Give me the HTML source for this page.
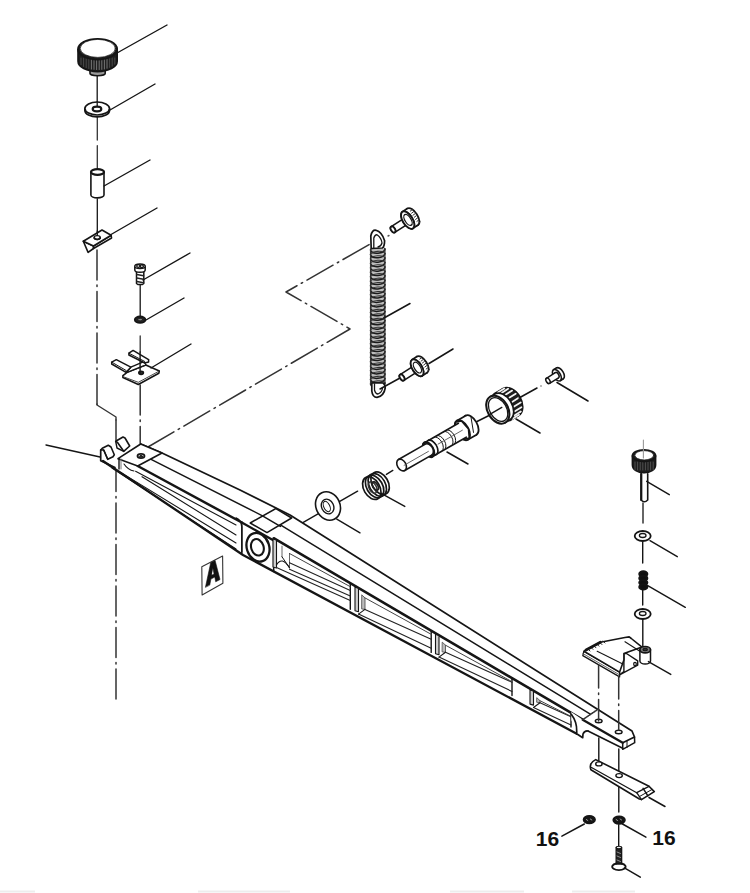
<!DOCTYPE html>
<html><head><meta charset="utf-8"><style>
html,body{margin:0;padding:0;background:#fff;}
svg{display:block;}
</style></head><body>
<svg width="750" height="893" viewBox="0 0 750 893" stroke-linecap="round">
<rect width="750" height="893" fill="#fff"/>
<line x1="97.3" y1="117.5" x2="97.3" y2="140" stroke="#333" stroke-width="1.3" />
<line x1="97.3" y1="145.7" x2="97.3" y2="168" stroke="#333" stroke-width="1.3" />
<polyline points="97,250 97,405" fill="none" stroke="#333" stroke-width="1.5" stroke-linejoin="round" stroke-dasharray="30 5 1.5 5" stroke-dashoffset="0"/>
<polyline points="97,404 97,405 116,417 116,420" fill="none" stroke="#333" stroke-width="1.4" stroke-linejoin="round" />
<polyline points="116,420 116,704" fill="none" stroke="#333" stroke-width="1.5" stroke-linejoin="round" stroke-dasharray="30 5 1.5 5" stroke-dashoffset="0"/>
<polyline points="140.2,385 140.2,452" fill="none" stroke="#333" stroke-width="1.5" stroke-linejoin="round" stroke-dasharray="30 5 1.5 5" stroke-dashoffset="0"/>
<line x1="140.2" y1="336" x2="140.2" y2="352" stroke="#333" stroke-width="1.3" />
<polyline points="148,447 350,329 286,292 372,243" fill="none" stroke="#333" stroke-width="1.5" stroke-linejoin="round" stroke-dasharray="30 5 1.5 5" stroke-dashoffset="0"/>
<line x1="97.2" y1="72" x2="97.2" y2="102" stroke="#151515" stroke-width="1.3" />
<path d="M90,69 L90,73.5 A7.6,2.2 0 0 0 105.2,73.5 L105.2,69" fill="#9a9a9a" stroke="#151515" stroke-width="1.6" stroke-linejoin="round" />
<path d="M78,49.2 L78,61.2 A19.6,10.4 0 0 0 117.2,61.2 L117.2,49.2 Z" fill="#1e1e1e" stroke="#151515" stroke-width="1.6" stroke-linejoin="round" />
<line x1="81" y1="58" x2="81" y2="64.7" stroke="#555" stroke-width="0.8" />
<line x1="83.6" y1="58" x2="83.6" y2="66.5" stroke="#555" stroke-width="0.8" />
<line x1="86.2" y1="58" x2="86.2" y2="67.7" stroke="#555" stroke-width="0.8" />
<line x1="88.8" y1="58" x2="88.8" y2="68.5" stroke="#555" stroke-width="0.8" />
<line x1="91.4" y1="58" x2="91.4" y2="69.1" stroke="#8a8a8a" stroke-width="0.8" />
<line x1="94" y1="58" x2="94" y2="69.4" stroke="#8a8a8a" stroke-width="0.8" />
<line x1="96.6" y1="58" x2="96.6" y2="69.6" stroke="#8a8a8a" stroke-width="0.8" />
<line x1="99.2" y1="58" x2="99.2" y2="69.6" stroke="#8a8a8a" stroke-width="0.8" />
<line x1="101.8" y1="58" x2="101.8" y2="69.4" stroke="#8a8a8a" stroke-width="0.8" />
<line x1="104.4" y1="58" x2="104.4" y2="69" stroke="#8a8a8a" stroke-width="0.8" />
<line x1="107" y1="58" x2="107" y2="68.3" stroke="#8a8a8a" stroke-width="0.8" />
<line x1="109.6" y1="58" x2="109.6" y2="67.4" stroke="#555" stroke-width="0.8" />
<line x1="112.2" y1="58" x2="112.2" y2="66.1" stroke="#555" stroke-width="0.8" />
<line x1="114.8" y1="58" x2="114.8" y2="64.2" stroke="#555" stroke-width="0.8" />
<ellipse cx="97.6" cy="49.2" rx="19.6" ry="10.4" fill="#1e1e1e" stroke="#151515" stroke-width="1.7" />
<ellipse cx="97.8" cy="48.4" rx="17.6" ry="9" fill="#fff" stroke="#151515" stroke-width="0.7" />
<line x1="117" y1="53" x2="167" y2="25" stroke="#151515" stroke-width="1.4" />
<path d="M84.9,108.5 L84.9,110.5 A12.3,6.4 0 0 0 109.5,110.5 L109.5,108.5" fill="#fff" stroke="#151515" stroke-width="1.7" stroke-linejoin="round" />
<ellipse cx="97.2" cy="108.5" rx="12.3" ry="6.5" fill="#fff" stroke="#151515" stroke-width="1.7" />
<line x1="97.2" y1="102" x2="97.2" y2="107" stroke="#151515" stroke-width="1.3" />
<ellipse cx="97" cy="109" rx="4.3" ry="2.3" fill="#fff" stroke="#151515" stroke-width="2.2" />
<line x1="110" y1="110" x2="155" y2="84" stroke="#151515" stroke-width="1.4" />
<path d="M90.9,172 L90.9,195 A6.55,2.9 0 0 0 104,195 L104,172" fill="#fff" stroke="#151515" stroke-width="1.6" stroke-linejoin="round" />
<ellipse cx="97.5" cy="172" rx="6.5" ry="2.9" fill="#fff" stroke="#151515" stroke-width="2.2" />
<line x1="97.3" y1="199" x2="97.3" y2="233" stroke="#151515" stroke-width="1.3" />
<line x1="104" y1="186" x2="150" y2="160" stroke="#151515" stroke-width="1.4" />
<polygon points="83.3,241.2 93.5,246 93.5,248.5 88.1,252.4" fill="#fff" stroke="#151515" stroke-width="1.6" stroke-linejoin="round" />
<polygon points="93.5,246 111.1,235.3 111.6,238 93.5,248.5" fill="#fff" stroke="#151515" stroke-width="1.5" stroke-linejoin="round" />
<polygon points="83.3,241.2 102,230 111.1,235.3 93.5,246" fill="#fff" stroke="#151515" stroke-width="1.6" stroke-linejoin="round" />
<line x1="97.3" y1="231" x2="97.3" y2="236" stroke="#151515" stroke-width="1.3" />
<ellipse cx="97.2" cy="237.6" rx="3.1" ry="2" fill="#fff" stroke="#151515" stroke-width="1.4" />
<path d="M94.3,238 A3.1,2 0 0 0 100.1,238" fill="none" stroke="#151515" stroke-width="1.8" stroke-linejoin="round" />
<line x1="111" y1="234.5" x2="157" y2="208" stroke="#151515" stroke-width="1.4" />
<polygon points="136.5,271.5 143.8,271.5 143.8,283.5 142.5,284.5 137.8,284.5 136.5,283.5" fill="#fff" stroke="#151515" stroke-width="1.5" stroke-linejoin="round" />
<line x1="136.8" y1="274.5" x2="143.5" y2="275.7" stroke="#222" stroke-width="1.5" />
<line x1="136.8" y1="278" x2="143.5" y2="279.2" stroke="#222" stroke-width="1.5" />
<line x1="136.8" y1="281.5" x2="143.5" y2="282.7" stroke="#222" stroke-width="1.5" />
<path d="M134.8,266.5 L134.8,270 A5.2,2.3 0 0 0 145.2,270 L145.2,266.5" fill="#fff" stroke="#151515" stroke-width="1.5" stroke-linejoin="round" />
<ellipse cx="140" cy="266.3" rx="5.2" ry="2.3" fill="#fff" stroke="#151515" stroke-width="1.5" />
<ellipse cx="138.3" cy="266" rx="1.6" ry="1.3" fill="none" stroke="#151515" stroke-width="1.3" />
<ellipse cx="141.8" cy="266.2" rx="1.6" ry="1.3" fill="none" stroke="#151515" stroke-width="1.3" />
<line x1="143" y1="280" x2="190" y2="253" stroke="#151515" stroke-width="1.4" />
<line x1="140.2" y1="285" x2="140.2" y2="316" stroke="#151515" stroke-width="1.3" />
<ellipse cx="140.1" cy="319.7" rx="5.3" ry="3.2" fill="#222" stroke="#151515" stroke-width="1.8" />
<ellipse cx="140.3" cy="319.6" rx="2.4" ry="1.2" fill="#888" stroke="#151515" stroke-width="0.7" />
<line x1="146" y1="320" x2="184" y2="298" stroke="#151515" stroke-width="1.4" />
<polygon points="122.9,375.6 127.1,372.3 145.8,364.9 159.3,371 158.8,373.3 138.3,384.5 122.9,377.5" fill="#fff" stroke="#151515" stroke-width="1.6" stroke-linejoin="round" />
<polyline points="124,377 138.3,382.3 158.8,371.3" fill="none" stroke="#444" stroke-width="1" stroke-linejoin="round" />
<polygon points="126.1,372.3 130.8,367.2 148.6,359.7 144.8,363 145.8,364.9 127.1,372.3" fill="#fff" stroke="#151515" stroke-width="1.3" stroke-linejoin="round" />
<polygon points="111.7,362.1 116.3,359.7 130.8,367.2 126.1,372.3 111.7,364" fill="#fff" stroke="#151515" stroke-width="1.5" stroke-linejoin="round" />
<line x1="111.7" y1="362.1" x2="126.1" y2="370.5" stroke="#151515" stroke-width="1" />
<polygon points="128.9,353.2 133.1,350.4 148.6,359.7 148.6,362 144.8,363 128.9,355" fill="#fff" stroke="#151515" stroke-width="1.5" stroke-linejoin="round" />
<line x1="128.9" y1="353.2" x2="144.8" y2="361.5" stroke="#151515" stroke-width="1" />
<ellipse cx="141.1" cy="372.8" rx="2.3" ry="1.6" fill="#333" stroke="#151515" stroke-width="1.6" />
<line x1="140.1" y1="352" x2="140.1" y2="373" stroke="#151515" stroke-width="1.4" />
<line x1="151" y1="368" x2="191" y2="344" stroke="#151515" stroke-width="1.4" />
<rect x="371" y="249" width="14" height="135" fill="#bdbdbd"/>
<path d="M370.5,250 C372,255 384,254 385,249" fill="none" stroke="#1a1a1a" stroke-width="1.5" stroke-linejoin="round" />
<path d="M370.5,250 C372,246.5 383,245.5 385,249" fill="none" stroke="#333" stroke-width="1.1" stroke-linejoin="round" />
<path d="M370.5,254.5 C372,259.5 384,258.5 385,253.5" fill="none" stroke="#1a1a1a" stroke-width="1.5" stroke-linejoin="round" />
<path d="M370.5,254.5 C372,251 383,250 385,253.5" fill="none" stroke="#333" stroke-width="1.1" stroke-linejoin="round" />
<path d="M370.5,258.9 C372,263.9 384,262.9 385,257.9" fill="none" stroke="#1a1a1a" stroke-width="1.5" stroke-linejoin="round" />
<path d="M370.5,258.9 C372,255.4 383,254.4 385,257.9" fill="none" stroke="#333" stroke-width="1.1" stroke-linejoin="round" />
<path d="M370.5,263.4 C372,268.4 384,267.4 385,262.4" fill="none" stroke="#1a1a1a" stroke-width="1.5" stroke-linejoin="round" />
<path d="M370.5,263.4 C372,259.9 383,258.9 385,262.4" fill="none" stroke="#333" stroke-width="1.1" stroke-linejoin="round" />
<path d="M370.5,267.9 C372,272.9 384,271.9 385,266.9" fill="none" stroke="#1a1a1a" stroke-width="1.5" stroke-linejoin="round" />
<path d="M370.5,267.9 C372,264.4 383,263.4 385,266.9" fill="none" stroke="#333" stroke-width="1.1" stroke-linejoin="round" />
<path d="M370.5,272.3 C372,277.3 384,276.3 385,271.3" fill="none" stroke="#1a1a1a" stroke-width="1.5" stroke-linejoin="round" />
<path d="M370.5,272.3 C372,268.8 383,267.8 385,271.3" fill="none" stroke="#333" stroke-width="1.1" stroke-linejoin="round" />
<path d="M370.5,276.8 C372,281.8 384,280.8 385,275.8" fill="none" stroke="#1a1a1a" stroke-width="1.5" stroke-linejoin="round" />
<path d="M370.5,276.8 C372,273.3 383,272.3 385,275.8" fill="none" stroke="#333" stroke-width="1.1" stroke-linejoin="round" />
<path d="M370.5,281.3 C372,286.3 384,285.3 385,280.3" fill="none" stroke="#1a1a1a" stroke-width="1.5" stroke-linejoin="round" />
<path d="M370.5,281.3 C372,277.8 383,276.8 385,280.3" fill="none" stroke="#333" stroke-width="1.1" stroke-linejoin="round" />
<path d="M370.5,285.7 C372,290.7 384,289.7 385,284.7" fill="none" stroke="#1a1a1a" stroke-width="1.5" stroke-linejoin="round" />
<path d="M370.5,285.7 C372,282.2 383,281.2 385,284.7" fill="none" stroke="#333" stroke-width="1.1" stroke-linejoin="round" />
<path d="M370.5,290.2 C372,295.2 384,294.2 385,289.2" fill="none" stroke="#1a1a1a" stroke-width="1.5" stroke-linejoin="round" />
<path d="M370.5,290.2 C372,286.7 383,285.7 385,289.2" fill="none" stroke="#333" stroke-width="1.1" stroke-linejoin="round" />
<path d="M370.5,294.7 C372,299.7 384,298.7 385,293.7" fill="none" stroke="#1a1a1a" stroke-width="1.5" stroke-linejoin="round" />
<path d="M370.5,294.7 C372,291.2 383,290.2 385,293.7" fill="none" stroke="#333" stroke-width="1.1" stroke-linejoin="round" />
<path d="M370.5,299.1 C372,304.1 384,303.1 385,298.1" fill="none" stroke="#1a1a1a" stroke-width="1.5" stroke-linejoin="round" />
<path d="M370.5,299.1 C372,295.6 383,294.6 385,298.1" fill="none" stroke="#333" stroke-width="1.1" stroke-linejoin="round" />
<path d="M370.5,303.6 C372,308.6 384,307.6 385,302.6" fill="none" stroke="#1a1a1a" stroke-width="1.5" stroke-linejoin="round" />
<path d="M370.5,303.6 C372,300.1 383,299.1 385,302.6" fill="none" stroke="#333" stroke-width="1.1" stroke-linejoin="round" />
<path d="M370.5,308.1 C372,313.1 384,312.1 385,307.1" fill="none" stroke="#1a1a1a" stroke-width="1.5" stroke-linejoin="round" />
<path d="M370.5,308.1 C372,304.6 383,303.6 385,307.1" fill="none" stroke="#333" stroke-width="1.1" stroke-linejoin="round" />
<path d="M370.5,312.5 C372,317.5 384,316.5 385,311.5" fill="none" stroke="#1a1a1a" stroke-width="1.5" stroke-linejoin="round" />
<path d="M370.5,312.5 C372,309 383,308 385,311.5" fill="none" stroke="#333" stroke-width="1.1" stroke-linejoin="round" />
<path d="M370.5,317 C372,322 384,321 385,316" fill="none" stroke="#1a1a1a" stroke-width="1.5" stroke-linejoin="round" />
<path d="M370.5,317 C372,313.5 383,312.5 385,316" fill="none" stroke="#333" stroke-width="1.1" stroke-linejoin="round" />
<path d="M370.5,321.5 C372,326.5 384,325.5 385,320.5" fill="none" stroke="#1a1a1a" stroke-width="1.5" stroke-linejoin="round" />
<path d="M370.5,321.5 C372,318 383,317 385,320.5" fill="none" stroke="#333" stroke-width="1.1" stroke-linejoin="round" />
<path d="M370.5,325.9 C372,330.9 384,329.9 385,324.9" fill="none" stroke="#1a1a1a" stroke-width="1.5" stroke-linejoin="round" />
<path d="M370.5,325.9 C372,322.4 383,321.4 385,324.9" fill="none" stroke="#333" stroke-width="1.1" stroke-linejoin="round" />
<path d="M370.5,330.4 C372,335.4 384,334.4 385,329.4" fill="none" stroke="#1a1a1a" stroke-width="1.5" stroke-linejoin="round" />
<path d="M370.5,330.4 C372,326.9 383,325.9 385,329.4" fill="none" stroke="#333" stroke-width="1.1" stroke-linejoin="round" />
<path d="M370.5,334.9 C372,339.9 384,338.9 385,333.9" fill="none" stroke="#1a1a1a" stroke-width="1.5" stroke-linejoin="round" />
<path d="M370.5,334.9 C372,331.4 383,330.4 385,333.9" fill="none" stroke="#333" stroke-width="1.1" stroke-linejoin="round" />
<path d="M370.5,339.3 C372,344.3 384,343.3 385,338.3" fill="none" stroke="#1a1a1a" stroke-width="1.5" stroke-linejoin="round" />
<path d="M370.5,339.3 C372,335.8 383,334.8 385,338.3" fill="none" stroke="#333" stroke-width="1.1" stroke-linejoin="round" />
<path d="M370.5,343.8 C372,348.8 384,347.8 385,342.8" fill="none" stroke="#1a1a1a" stroke-width="1.5" stroke-linejoin="round" />
<path d="M370.5,343.8 C372,340.3 383,339.3 385,342.8" fill="none" stroke="#333" stroke-width="1.1" stroke-linejoin="round" />
<path d="M370.5,348.3 C372,353.3 384,352.3 385,347.3" fill="none" stroke="#1a1a1a" stroke-width="1.5" stroke-linejoin="round" />
<path d="M370.5,348.3 C372,344.8 383,343.8 385,347.3" fill="none" stroke="#333" stroke-width="1.1" stroke-linejoin="round" />
<path d="M370.5,352.7 C372,357.7 384,356.7 385,351.7" fill="none" stroke="#1a1a1a" stroke-width="1.5" stroke-linejoin="round" />
<path d="M370.5,352.7 C372,349.2 383,348.2 385,351.7" fill="none" stroke="#333" stroke-width="1.1" stroke-linejoin="round" />
<path d="M370.5,357.2 C372,362.2 384,361.2 385,356.2" fill="none" stroke="#1a1a1a" stroke-width="1.5" stroke-linejoin="round" />
<path d="M370.5,357.2 C372,353.7 383,352.7 385,356.2" fill="none" stroke="#333" stroke-width="1.1" stroke-linejoin="round" />
<path d="M370.5,361.7 C372,366.7 384,365.7 385,360.7" fill="none" stroke="#1a1a1a" stroke-width="1.5" stroke-linejoin="round" />
<path d="M370.5,361.7 C372,358.2 383,357.2 385,360.7" fill="none" stroke="#333" stroke-width="1.1" stroke-linejoin="round" />
<path d="M370.5,366.1 C372,371.1 384,370.1 385,365.1" fill="none" stroke="#1a1a1a" stroke-width="1.5" stroke-linejoin="round" />
<path d="M370.5,366.1 C372,362.6 383,361.6 385,365.1" fill="none" stroke="#333" stroke-width="1.1" stroke-linejoin="round" />
<path d="M370.5,370.6 C372,375.6 384,374.6 385,369.6" fill="none" stroke="#1a1a1a" stroke-width="1.5" stroke-linejoin="round" />
<path d="M370.5,370.6 C372,367.1 383,366.1 385,369.6" fill="none" stroke="#333" stroke-width="1.1" stroke-linejoin="round" />
<path d="M370.5,375.1 C372,380.1 384,379.1 385,374.1" fill="none" stroke="#1a1a1a" stroke-width="1.5" stroke-linejoin="round" />
<path d="M370.5,375.1 C372,371.6 383,370.6 385,374.1" fill="none" stroke="#333" stroke-width="1.1" stroke-linejoin="round" />
<path d="M370.5,379.5 C372,384.5 384,383.5 385,378.5" fill="none" stroke="#1a1a1a" stroke-width="1.5" stroke-linejoin="round" />
<path d="M370.5,379.5 C372,376 383,375 385,378.5" fill="none" stroke="#333" stroke-width="1.1" stroke-linejoin="round" />
<path d="M370.5,384 C372,389 384,388 385,383" fill="none" stroke="#1a1a1a" stroke-width="1.5" stroke-linejoin="round" />
<path d="M370.5,384 C372,380.5 383,379.5 385,383" fill="none" stroke="#333" stroke-width="1.1" stroke-linejoin="round" />
<line x1="370.5" y1="249" x2="370.5" y2="384" stroke="#333" stroke-width="1.1" />
<line x1="385" y1="249" x2="385" y2="384" stroke="#333" stroke-width="1.1" />
<path d="M371.2,248.5 L370.8,236 Q372,229.5 376,230.3 Q382,232 384.6,240.7 Q384.5,246.5 382.4,248 Z" fill="#fff" stroke="#151515" stroke-width="1.7" stroke-linejoin="round" />
<path d="M373.8,248 L373.8,238 Q375,234.5 377,234.8 Q381.5,238 382,243 Q381,246.5 378,247" fill="none" stroke="#151515" stroke-width="1.3" stroke-linejoin="round" />
<path d="M371.8,383 L371.8,391 Q372.5,397.4 377,397.4 Q384,396 385.2,388 Q385,384 383,383 Z" fill="#fff" stroke="#151515" stroke-width="1.7" stroke-linejoin="round" />
<path d="M374.5,384 L374.5,390 Q375.5,394 378,394 Q382,392.5 382.5,388" fill="none" stroke="#151515" stroke-width="1.3" stroke-linejoin="round" />
<line x1="384" y1="318" x2="410" y2="303.5" stroke="#151515" stroke-width="1.5" />
<line x1="380" y1="389" x2="400" y2="378" stroke="#151515" stroke-width="1.5" />
<ellipse cx="409" cy="219.2" rx="2" ry="3.4" fill="#fff" stroke="#151515" stroke-width="1.6" transform="rotate(-32.7 409 219.2)" />
<polygon points="394.8,232.4 410.8,222.1 407.1,216.4 391.2,226.6" fill="#fff" stroke="none" stroke-width="0" stroke-linejoin="round" />
<line x1="394.8" y1="232.4" x2="410.8" y2="222.1" stroke="#151515" stroke-width="1.6" />
<line x1="391.2" y1="226.6" x2="407.1" y2="216.4" stroke="#151515" stroke-width="1.6" />
<ellipse cx="393" cy="229.5" rx="2" ry="3.4" fill="#fff" stroke="#151515" stroke-width="1.6" transform="rotate(-32.7 393 229.5)" />
<ellipse cx="412.7" cy="216.8" rx="4.9" ry="9.8" fill="#fff" stroke="#151515" stroke-width="1.8" transform="rotate(-32.7 412.7 216.8)" />
<polygon points="413,228.3 418,225.1 407.4,208.6 402.4,211.8" fill="#fff" stroke="none" stroke-width="0" stroke-linejoin="round" />
<line x1="413" y1="228.3" x2="418" y2="225.1" stroke="#151515" stroke-width="1.8" />
<line x1="402.4" y1="211.8" x2="407.4" y2="208.6" stroke="#151515" stroke-width="1.8" />
<ellipse cx="407.7" cy="220.1" rx="4.9" ry="9.8" fill="#fff" stroke="#151515" stroke-width="1.8" transform="rotate(-32.7 407.7 220.1)" />
<line x1="410.3" y1="211.1" x2="412.3" y2="209.6" stroke="#333" stroke-width="1" />
<line x1="411.6" y1="213.2" x2="413.6" y2="211.7" stroke="#333" stroke-width="1" />
<line x1="412.9" y1="215.3" x2="414.9" y2="213.8" stroke="#333" stroke-width="1" />
<line x1="414.2" y1="217.3" x2="416.2" y2="215.8" stroke="#333" stroke-width="1" />
<line x1="415.6" y1="219.4" x2="417.6" y2="217.9" stroke="#333" stroke-width="1" />
<line x1="416.9" y1="221.4" x2="418.9" y2="219.9" stroke="#333" stroke-width="1" />
<line x1="418.2" y1="223.5" x2="420.2" y2="222" stroke="#333" stroke-width="1" />
<ellipse cx="407.7" cy="220.1" rx="4.9" ry="9.8" fill="#fff" stroke="#151515" stroke-width="1.8" transform="rotate(-32 407.7 220.1)" />
<ellipse cx="408" cy="219.9" rx="3" ry="6.2" fill="#fff" stroke="#151515" stroke-width="1.3" transform="rotate(-32 408 219.9)" />
<ellipse cx="393" cy="229.5" rx="2" ry="3.4" fill="#fff" stroke="#151515" stroke-width="1.8" transform="rotate(-32 393 229.5)" />
<line x1="388" y1="236" x2="389" y2="235.5" stroke="#555" stroke-width="1.4" />
<ellipse cx="418" cy="367.2" rx="2.1" ry="3.5" fill="#fff" stroke="#151515" stroke-width="1.6" transform="rotate(-32.7 418 367.2)" />
<polygon points="403.9,380.4 419.9,370.2 416.1,364.3 400.1,374.6" fill="#fff" stroke="none" stroke-width="0" stroke-linejoin="round" />
<line x1="403.9" y1="380.4" x2="419.9" y2="370.2" stroke="#151515" stroke-width="1.6" />
<line x1="400.1" y1="374.6" x2="416.1" y2="364.3" stroke="#151515" stroke-width="1.6" />
<ellipse cx="402" cy="377.5" rx="2.1" ry="3.5" fill="#fff" stroke="#151515" stroke-width="1.6" transform="rotate(-32.7 402 377.5)" />
<ellipse cx="422.2" cy="364.5" rx="4.8" ry="9.5" fill="#fff" stroke="#151515" stroke-width="1.8" transform="rotate(-32.7 422.2 364.5)" />
<polygon points="422.3,375.8 427.3,372.5 417,356.5 412,359.8" fill="#fff" stroke="none" stroke-width="0" stroke-linejoin="round" />
<line x1="422.3" y1="375.8" x2="427.3" y2="372.5" stroke="#151515" stroke-width="1.8" />
<line x1="412" y1="359.8" x2="417" y2="356.5" stroke="#151515" stroke-width="1.8" />
<ellipse cx="417.1" cy="367.8" rx="4.8" ry="9.5" fill="#fff" stroke="#151515" stroke-width="1.8" transform="rotate(-32.7 417.1 367.8)" />
<line x1="419.8" y1="359.1" x2="421.8" y2="357.6" stroke="#333" stroke-width="1" />
<line x1="421.1" y1="361.1" x2="423.1" y2="359.6" stroke="#333" stroke-width="1" />
<line x1="422.4" y1="363" x2="424.4" y2="361.5" stroke="#333" stroke-width="1" />
<line x1="423.7" y1="365" x2="425.7" y2="363.5" stroke="#333" stroke-width="1" />
<line x1="424.9" y1="367" x2="426.9" y2="365.5" stroke="#333" stroke-width="1" />
<line x1="426.2" y1="369" x2="428.2" y2="367.5" stroke="#333" stroke-width="1" />
<line x1="427.5" y1="371" x2="429.5" y2="369.5" stroke="#333" stroke-width="1" />
<ellipse cx="417.1" cy="367.8" rx="4.8" ry="9.5" fill="#fff" stroke="#151515" stroke-width="1.8" transform="rotate(-32 417.1 367.8)" />
<ellipse cx="417.4" cy="367.6" rx="3" ry="6" fill="#fff" stroke="#151515" stroke-width="1.3" transform="rotate(-32 417.4 367.6)" />
<ellipse cx="402" cy="377.5" rx="2" ry="3.5" fill="#fff" stroke="#151515" stroke-width="1.8" transform="rotate(-32 402 377.5)" />
<line x1="429" y1="363.5" x2="453" y2="349" stroke="#151515" stroke-width="1.5" />
<line x1="447" y1="452" x2="468" y2="464" stroke="#151515" stroke-width="1.5" />
<line x1="476" y1="422" x2="500" y2="410" stroke="#151515" stroke-width="1.5" />
<ellipse cx="471" cy="425.2" rx="6.1" ry="11" fill="#fff" stroke="#151515" stroke-width="1.8" transform="rotate(-29.8 471 425.2)" />
<polygon points="467.8,439.8 476.5,434.8 465.6,415.7 456.9,420.7" fill="#fff" stroke="none" stroke-width="0" stroke-linejoin="round" />
<line x1="467.8" y1="439.8" x2="476.5" y2="434.8" stroke="#151515" stroke-width="1.8" />
<line x1="456.9" y1="420.7" x2="465.6" y2="415.7" stroke="#151515" stroke-width="1.8" />
<ellipse cx="462.4" cy="430.2" rx="6.1" ry="11" fill="#fff" stroke="#151515" stroke-width="1.8" transform="rotate(-29.8 462.4 430.2)" />
<line x1="470.9" y1="416.6" x2="473.5" y2="432.4" stroke="#151515" stroke-width="1" />
<polygon points="468.5,428.9 469.3,438.1 463.2,439.5 456.2,431.5 455.4,422.3 461.5,421" fill="#fff" stroke="#151515" stroke-width="1.6" stroke-linejoin="round" />
<polygon points="436,454.5 466.3,437.2 458.4,423.3 428,440.7" fill="#fff" stroke="none" stroke-width="0" stroke-linejoin="round" />
<line x1="436" y1="454.5" x2="466.3" y2="437.2" stroke="#151515" stroke-width="1.6" />
<line x1="428" y1="440.7" x2="458.4" y2="423.3" stroke="#151515" stroke-width="1.6" />
<ellipse cx="432" cy="447.6" rx="4.4" ry="8" fill="#fff" stroke="#151515" stroke-width="1.6" transform="rotate(-29.8 432 447.6)" />
<path d="M442,451.1 A4.4,8 -29.8 0 0 434.1,437.2" fill="none" stroke="#151515" stroke-width="1" stroke-linejoin="round" />
<path d="M444.6,449.6 A4.4,8 -29.8 0 0 436.7,435.7" fill="none" stroke="#151515" stroke-width="1" stroke-linejoin="round" />
<path d="M451.6,445.6 A4.4,8 -29.8 0 0 443.6,431.7" fill="none" stroke="#151515" stroke-width="1" stroke-linejoin="round" />
<path d="M454.2,444.1 A4.4,8 -29.8 0 0 446.2,430.2" fill="none" stroke="#151515" stroke-width="1" stroke-linejoin="round" />
<polyline points="438.1,444.1 462.4,430.2" fill="none" stroke="#555" stroke-width="0.9" stroke-linejoin="round" />
<ellipse cx="432.4" cy="447.4" rx="4.4" ry="8" fill="#fff" stroke="#151515" stroke-width="1.6" transform="rotate(-29.8 432.4 447.4)" />
<polygon points="432.5,456.5 436.4,454.3 428.4,440.4 424.5,442.7" fill="#fff" stroke="none" stroke-width="0" stroke-linejoin="round" />
<line x1="432.5" y1="456.5" x2="436.4" y2="454.3" stroke="#151515" stroke-width="1.6" />
<line x1="424.5" y1="442.7" x2="428.4" y2="440.4" stroke="#151515" stroke-width="1.6" />
<ellipse cx="428.5" cy="449.6" rx="4.4" ry="8" fill="#fff" stroke="#151515" stroke-width="1.6" transform="rotate(-29.8 428.5 449.6)" />
<ellipse cx="428.5" cy="449.6" rx="4.4" ry="8" fill="#fff" stroke="#151515" stroke-width="2.5" transform="rotate(-30 428.5 449.6)" />
<ellipse cx="428.5" cy="449.6" rx="4.3" ry="6.3" fill="#fff" stroke="#151515" stroke-width="1.6" transform="rotate(-29.8 428.5 449.6)" />
<polygon points="404.7,470.5 431.6,455.1 425.4,444.1 398.5,459.5" fill="#fff" stroke="none" stroke-width="0" stroke-linejoin="round" />
<line x1="404.7" y1="470.5" x2="431.6" y2="455.1" stroke="#151515" stroke-width="1.6" />
<line x1="398.5" y1="459.5" x2="425.4" y2="444.1" stroke="#151515" stroke-width="1.6" />
<ellipse cx="401.6" cy="465" rx="4.3" ry="6.3" fill="#fff" stroke="#151515" stroke-width="1.6" transform="rotate(-29.8 401.6 465)" />
<line x1="404.1" y1="465.3" x2="428.4" y2="451.4" stroke="#555" stroke-width="0.9" />
<ellipse cx="510.7" cy="402.1" rx="10.5" ry="15.5" fill="#1c1c1c" stroke="#151515" stroke-width="1.8" transform="rotate(-30.2 510.7 402.1)" />
<polygon points="509.9,420.5 518.5,415.5 502.9,388.7 494.3,393.8" fill="#1c1c1c" stroke="none" stroke-width="0" stroke-linejoin="round" />
<line x1="509.9" y1="420.5" x2="518.5" y2="415.5" stroke="#151515" stroke-width="1.8" />
<line x1="494.3" y1="393.8" x2="502.9" y2="388.7" stroke="#151515" stroke-width="1.8" />
<line x1="497.8" y1="392.6" x2="504.3" y2="388.5" stroke="#f2f2f2" stroke-width="1.8" />
<line x1="501.6" y1="392.9" x2="508.1" y2="388.8" stroke="#f2f2f2" stroke-width="1.8" />
<line x1="505.5" y1="394.7" x2="512.1" y2="390.6" stroke="#f2f2f2" stroke-width="1.8" />
<line x1="509.2" y1="397.8" x2="515.7" y2="393.7" stroke="#f2f2f2" stroke-width="1.8" />
<line x1="512.1" y1="401.9" x2="518.7" y2="397.8" stroke="#f2f2f2" stroke-width="1.8" />
<line x1="514.1" y1="406.6" x2="520.7" y2="402.5" stroke="#f2f2f2" stroke-width="1.8" />
<line x1="514.9" y1="411.3" x2="521.4" y2="407.2" stroke="#f2f2f2" stroke-width="1.8" />
<line x1="514.3" y1="415.5" x2="520.8" y2="411.5" stroke="#f2f2f2" stroke-width="1.8" />
<line x1="512.5" y1="418.8" x2="519" y2="414.8" stroke="#f2f2f2" stroke-width="1.8" />
<ellipse cx="502.1" cy="407.1" rx="10.2" ry="15" fill="#fff" stroke="#151515" stroke-width="1.7" transform="rotate(-30.2 502.1 407.1)" />
<polygon points="505.3,422.6 509.6,420.1 494.5,394.2 490.2,396.7" fill="#fff" stroke="none" stroke-width="0" stroke-linejoin="round" />
<line x1="505.3" y1="422.6" x2="509.6" y2="420.1" stroke="#151515" stroke-width="1.7" />
<line x1="490.2" y1="396.7" x2="494.5" y2="394.2" stroke="#151515" stroke-width="1.7" />
<ellipse cx="497.8" cy="409.7" rx="10.2" ry="15" fill="#fff" stroke="#151515" stroke-width="2.1" transform="rotate(-30 497.8 409.7)" />
<ellipse cx="498.1" cy="409.5" rx="8.4" ry="12.8" fill="#fff" stroke="#151515" stroke-width="1.3" transform="rotate(-30 498.1 409.5)" />
<line x1="489.8" y1="414.3" x2="501.8" y2="407.4" stroke="#151515" stroke-width="1.4" />
<line x1="516" y1="419" x2="540" y2="433" stroke="#151515" stroke-width="1.5" />
<line x1="519" y1="398" x2="537" y2="388" stroke="#151515" stroke-width="1.5" />
<line x1="557" y1="382.5" x2="588" y2="401" stroke="#151515" stroke-width="1.5" />
<ellipse cx="559.9" cy="373.4" rx="3.5" ry="6.4" fill="#fff" stroke="#151515" stroke-width="1.6" transform="rotate(-31.9 559.9 373.4)" />
<polygon points="560.3,380.7 563.3,378.8 556.5,367.9 553.5,369.8" fill="#fff" stroke="none" stroke-width="0" stroke-linejoin="round" />
<line x1="560.3" y1="380.7" x2="563.3" y2="378.8" stroke="#151515" stroke-width="1.6" />
<line x1="553.5" y1="369.8" x2="556.5" y2="367.9" stroke="#151515" stroke-width="1.6" />
<ellipse cx="556.9" cy="375.2" rx="3.5" ry="6.4" fill="#fff" stroke="#151515" stroke-width="1.6" transform="rotate(-31.9 556.9 375.2)" />
<ellipse cx="556.9" cy="375.2" rx="1.8" ry="3" fill="#fff" stroke="#151515" stroke-width="1.5" transform="rotate(-31.9 556.9 375.2)" />
<polygon points="549.6,383.3 558.5,377.8 555.3,372.7 546.4,378.3" fill="#fff" stroke="none" stroke-width="0" stroke-linejoin="round" />
<line x1="549.6" y1="383.3" x2="558.5" y2="377.8" stroke="#151515" stroke-width="1.5" />
<line x1="546.4" y1="378.3" x2="555.3" y2="372.7" stroke="#151515" stroke-width="1.5" />
<ellipse cx="548" cy="380.8" rx="1.8" ry="3" fill="#fff" stroke="#151515" stroke-width="1.5" transform="rotate(-31.9 548 380.8)" />
<circle cx="541" cy="386" r="0.8" fill="#666"/>
<line x1="302.4" y1="522.8" x2="357.6" y2="491.2" stroke="#151515" stroke-width="1.4" />
<ellipse cx="328" cy="506" rx="12" ry="14.6" fill="#fff" stroke="#151515" stroke-width="1.6" transform="rotate(-25 328 506)" />
<ellipse cx="327.6" cy="506.5" rx="6" ry="7.6" fill="#fff" stroke="#151515" stroke-width="1.4" transform="rotate(-25 327.6 506.5)" />
<ellipse cx="326.8" cy="506.5" rx="3" ry="5.5" fill="none" stroke="#151515" stroke-width="1" transform="rotate(-25 326.8 506.5)" />
<line x1="336.8" y1="519.2" x2="360" y2="532.8" stroke="#151515" stroke-width="1.4" />
<ellipse cx="380.1" cy="483.3" rx="8" ry="12.2" fill="none" stroke="#151515" stroke-width="1.7" transform="rotate(-30 380.1 483.3)" />
<ellipse cx="377.3" cy="484.9" rx="8" ry="12.2" fill="none" stroke="#151515" stroke-width="1.7" transform="rotate(-30 377.3 484.9)" />
<ellipse cx="374.6" cy="486.5" rx="8" ry="12.2" fill="none" stroke="#151515" stroke-width="1.7" transform="rotate(-30 374.6 486.5)" />
<ellipse cx="371.8" cy="488.1" rx="8" ry="12.2" fill="none" stroke="#151515" stroke-width="1.7" transform="rotate(-30 371.8 488.1)" />
<ellipse cx="372.7" cy="487.5" rx="3.6" ry="6.2" fill="none" stroke="#333" stroke-width="1.5" transform="rotate(-30 372.7 487.5)" />
<ellipse cx="375.3" cy="486" rx="2.5" ry="4.6" fill="none" stroke="#222" stroke-width="1.8" transform="rotate(-30 375.3 486)" />
<line x1="381.6" y1="493.6" x2="404.8" y2="506.4" stroke="#151515" stroke-width="1.4" />
<line x1="386.4" y1="474.4" x2="392.8" y2="470.4" stroke="#151515" stroke-width="1.4" />
<polygon points="100,447 113,440 140.7,444 162,453 240,490 290,515 340,546.5 598.7,710 632,732 634,739 622.7,749 586,738 243,555 103,461" fill="#fff" stroke="none" stroke-width="0" stroke-linejoin="round" />
<polyline points="140.7,444 162,453 240,490 290,515 340,546.5 598.7,710" fill="none" stroke="#151515" stroke-width="1.7" stroke-linejoin="round" />
<polyline points="103,461 243,555 576.7,733.7" fill="none" stroke="#151515" stroke-width="2.3" stroke-linejoin="round" />
<polyline points="151.6,459.6 262.5,515.8 280.4,526.4" fill="none" stroke="#151515" stroke-width="1.5" stroke-linejoin="round" />
<polyline points="137.7,466 241.8,522.5" fill="none" stroke="#151515" stroke-width="2.5" stroke-linejoin="round" />
<polyline points="135.6,471.3 236,525" fill="none" stroke="#151515" stroke-width="1.1" stroke-linejoin="round" />
<polyline points="142,476.7 236,535" fill="none" stroke="#151515" stroke-width="1.1" stroke-linejoin="round" />
<polyline points="120.7,472.4 236,543" fill="none" stroke="#151515" stroke-width="1.1" stroke-linejoin="round" />
<polyline points="112,468 236,549" fill="none" stroke="#151515" stroke-width="1.1" stroke-linejoin="round" />
<path d="M236,518 Q241.5,520 241.8,527 L241.8,552" fill="none" stroke="#151515" stroke-width="1.4" stroke-linejoin="round" />
<polygon points="250.2,523 275.9,508.5 291.6,518 267,532.6" fill="none" stroke="#151515" stroke-width="1.5" stroke-linejoin="round" />
<polyline points="280.4,524.8 590.7,714.3" fill="none" stroke="#151515" stroke-width="1.5" stroke-linejoin="round" />
<polyline points="273.7,538.2 582.7,719.7" fill="none" stroke="#151515" stroke-width="2.5" stroke-linejoin="round" />
<polyline points="241.8,522.5 273.7,540.4" fill="none" stroke="#151515" stroke-width="2.3" stroke-linejoin="round" />
<line x1="241.8" y1="522.5" x2="241.8" y2="553" stroke="#151515" stroke-width="1.5" />
<line x1="273.7" y1="540.4" x2="273.7" y2="571.5" stroke="#151515" stroke-width="1.5" />
<ellipse cx="258" cy="547.3" rx="11.2" ry="14.6" fill="#fff" stroke="#151515" stroke-width="2.3" transform="rotate(-18 258 547.3)" />
<ellipse cx="257.4" cy="547.3" rx="6.2" ry="8.4" fill="#fff" stroke="#151515" stroke-width="2.1" transform="rotate(-18 257.4 547.3)" />
<polygon points="273,538.8 276.5,540.3 276.5,568 273,567" fill="#d0d0d0" stroke="#151515" stroke-width="1.1" stroke-linejoin="round" />
<line x1="350.3" y1="584.2" x2="350.3" y2="609.2" stroke="#151515" stroke-width="1.4" />
<line x1="282" y1="546.1" x2="282" y2="556.8" stroke="#666" stroke-width="1" />
<line x1="289.5" y1="553.5" x2="289.5" y2="567.8" stroke="#666" stroke-width="1" />
<path d="M276.5,564.9 Q282,555.8 289.5,567.8" fill="none" stroke="#151515" stroke-width="1.1" stroke-linejoin="round" />
<line x1="282" y1="556.8" x2="289.5" y2="567.8" stroke="#151515" stroke-width="1" />
<line x1="289.5" y1="562.8" x2="350.3" y2="590.5" stroke="#222" stroke-width="1.1" />
<line x1="289.5" y1="569.3" x2="350.3" y2="596.1" stroke="#222" stroke-width="1.1" />
<line x1="276.5" y1="567.4" x2="350.3" y2="600.6" stroke="#222" stroke-width="1.1" />
<line x1="289.5" y1="553.5" x2="350.3" y2="586.7" stroke="#444" stroke-width="1" />
<polygon points="355,587 358.5,588.5 358.5,611.8 355,610.8" fill="#d0d0d0" stroke="#151515" stroke-width="1.1" stroke-linejoin="round" />
<line x1="431.2" y1="631.8" x2="431.2" y2="652.4" stroke="#151515" stroke-width="1.4" />
<polygon points="362,595.1 365,597.9 365,609.4 362,609" fill="#bbb" stroke="#555" stroke-width="0.9" stroke-linejoin="round" />
<line x1="358.5" y1="614.1" x2="365" y2="609.4" stroke="#151515" stroke-width="1.1" />
<line x1="365" y1="609.4" x2="431.2" y2="639.2" stroke="#222" stroke-width="1.1" />
<line x1="358.5" y1="614.1" x2="431.2" y2="648.3" stroke="#222" stroke-width="1.1" />
<line x1="365" y1="597.9" x2="431.2" y2="634.3" stroke="#444" stroke-width="1" />
<polygon points="435.5,634.3 439,635.8 439,654.7 435.5,653.7" fill="#d0d0d0" stroke="#151515" stroke-width="1.1" stroke-linejoin="round" />
<line x1="512" y1="679.2" x2="512" y2="695.5" stroke="#151515" stroke-width="1.4" />
<polygon points="442.5,642.4 445.5,645.2 445.5,652.3 442.5,651.9" fill="#bbb" stroke="#555" stroke-width="0.9" stroke-linejoin="round" />
<line x1="439" y1="657.1" x2="445.5" y2="652.3" stroke="#151515" stroke-width="1.1" />
<line x1="445.5" y1="652.3" x2="512" y2="682.3" stroke="#222" stroke-width="1.1" />
<line x1="439" y1="657.1" x2="512" y2="691.4" stroke="#222" stroke-width="1.1" />
<line x1="445.5" y1="645.2" x2="512" y2="681.7" stroke="#444" stroke-width="1" />
<polygon points="530,689.8 533.5,691.3 533.5,705.1 530,704.1" fill="#d0d0d0" stroke="#151515" stroke-width="1.1" stroke-linejoin="round" />
<line x1="571" y1="713.9" x2="571" y2="727" stroke="#151515" stroke-width="1.4" />
<polygon points="537,697.9 540,700.7 540,702.7 537,702.3" fill="#bbb" stroke="#555" stroke-width="0.9" stroke-linejoin="round" />
<line x1="533.5" y1="707.5" x2="540" y2="702.7" stroke="#151515" stroke-width="1.1" />
<line x1="540" y1="702.7" x2="571" y2="716.7" stroke="#222" stroke-width="1.1" />
<line x1="533.5" y1="707.5" x2="571" y2="725.1" stroke="#222" stroke-width="1.1" />
<line x1="540" y1="700.7" x2="571" y2="716.4" stroke="#444" stroke-width="1" />
<polygon points="582.7,719.7 597.3,709.7 598.7,710 632,731 634.5,737 622.7,742.7" fill="#fff" stroke="none" stroke-width="0" stroke-linejoin="round" />
<polygon points="571.3,712 582.7,719.7 588,731 622.7,748.3 622.7,742.7 634.5,737 634.7,742.7 622.7,749.3 588,733 582.7,737.7 576.7,733.7 571.3,720" fill="#fff" stroke="none" stroke-width="0" stroke-linejoin="round" />
<polyline points="598.7,710 632,731 634.5,737 622.7,742.7" fill="none" stroke="#151515" stroke-width="1.7" stroke-linejoin="round" />
<polyline points="582.7,719.7 622.7,742.7" fill="none" stroke="#151515" stroke-width="2.3" stroke-linejoin="round" />
<polyline points="634.5,737 634.7,742.7 622.7,749.3 622.7,742.7" fill="none" stroke="#151515" stroke-width="1.5" stroke-linejoin="round" />
<line x1="627" y1="741" x2="627" y2="747.5" stroke="#151515" stroke-width="1" />
<polyline points="588,731 622.7,748.3" fill="none" stroke="#151515" stroke-width="1.6" stroke-linejoin="round" />
<polyline points="582.7,719.7 597.3,709.7" fill="none" stroke="#333" stroke-width="1.6" stroke-linejoin="round" stroke-dasharray="1.5 1.2"/>
<path d="M571.3,714.3 Q577,722 576.7,731 L576.7,733.7 L582.7,737.7 L583,734 Q584.5,730.5 588,731" fill="none" stroke="#151515" stroke-width="1.7" stroke-linejoin="round" />
<ellipse cx="598.7" cy="721" rx="3.4" ry="1.8" fill="#fff" stroke="#151515" stroke-width="1.4" />
<ellipse cx="618.7" cy="732" rx="3.4" ry="1.8" fill="#fff" stroke="#151515" stroke-width="1.4" />
<polygon points="118,458.7 140.7,444 162,453 137.7,466" fill="#fff" stroke="#151515" stroke-width="1.6" stroke-linejoin="round" />
<ellipse cx="141" cy="456" rx="3.5" ry="2.1" fill="#fff" stroke="#151515" stroke-width="1.8" />
<ellipse cx="141" cy="456.3" rx="1.5" ry="0.9" fill="#333" stroke="#151515" stroke-width="0.9" />
<path d="M100.7,450 L102.3,448.3 L108.3,445.3 L111,447 L114.3,454.7 L113,456.7 L107.7,459.3 L103.7,450 Z" fill="#fff" stroke="#151515" stroke-width="1.6" stroke-linejoin="round" />
<path d="M100.7,450 L100.7,460.7 L115,467.5" fill="none" stroke="#151515" stroke-width="1.7" stroke-linejoin="round" />
<path d="M103.7,450 L107.7,459.3" fill="none" stroke="#151515" stroke-width="1.4" stroke-linejoin="round" />
<path d="M115.7,441.3 L123,437 L125,438 L129.7,446 L123.7,451.3 L117.7,442.7 Z" fill="#fff" stroke="#151515" stroke-width="1.6" stroke-linejoin="round" />
<path d="M115.7,441.3 L117,448 L123.7,451.3" fill="none" stroke="#151515" stroke-width="1.4" stroke-linejoin="round" />
<line x1="118" y1="458.7" x2="100.7" y2="450" stroke="#151515" stroke-width="0" />
<line x1="119" y1="459" x2="119" y2="469" stroke="#151515" stroke-width="1.4" />
<line x1="121" y1="459" x2="121" y2="469" stroke="#777" stroke-width="1" />
<path d="M124,464 Q128,470 134,471" fill="none" stroke="#151515" stroke-width="1.1" stroke-linejoin="round" />
<line x1="46" y1="445" x2="100" y2="457" stroke="#151515" stroke-width="1.4" />
<polygon points="201.8,566.8 222.6,556.1 222.9,583.3 202.1,595" fill="#fff" stroke="#333" stroke-width="1.1" stroke-linejoin="round" />
<path d="M205.5,587 L210.7,562.8 L215.1,560.5 L220,579.5 L215.7,581.8 L214.8,577 L210.9,579.1 L209.8,584.8 Z M211.6,575.2 L214.1,574 L212.8,567.8 Z" fill="#111" fill-rule="evenodd" stroke="#111" stroke-width="0.6"/>
<path d="M632.4,455.7 L632.4,465 A11.6,7.9 0 0 0 655.6,465 L655.6,455.7 Z" fill="#1e1e1e" stroke="#151515" stroke-width="1.6" stroke-linejoin="round" />
<line x1="635" y1="462" x2="635" y2="470" stroke="#666" stroke-width="0.7" />
<line x1="637.6" y1="462" x2="637.6" y2="470" stroke="#666" stroke-width="0.7" />
<line x1="640.2" y1="462" x2="640.2" y2="470" stroke="#666" stroke-width="0.7" />
<line x1="642.8" y1="462" x2="642.8" y2="470" stroke="#666" stroke-width="0.7" />
<line x1="645.4" y1="462" x2="645.4" y2="470" stroke="#666" stroke-width="0.7" />
<line x1="648" y1="462" x2="648" y2="470" stroke="#666" stroke-width="0.7" />
<line x1="650.6" y1="462" x2="650.6" y2="470" stroke="#666" stroke-width="0.7" />
<line x1="653.2" y1="462" x2="653.2" y2="470" stroke="#666" stroke-width="0.7" />
<ellipse cx="644" cy="455.7" rx="11.6" ry="5.9" fill="#1e1e1e" stroke="#151515" stroke-width="1.6" />
<ellipse cx="644.3" cy="455.3" rx="9.4" ry="4.6" fill="#fff" stroke="#151515" stroke-width="0.7" />
<line x1="643.4" y1="440" x2="643.4" y2="458" stroke="#999" stroke-width="1.1" />
<path d="M641.1,473.7 L641.1,500 Q644.4,503.5 647.7,500 L647.7,473.7" fill="#fff" stroke="#151515" stroke-width="1.6" stroke-linejoin="round" />
<line x1="641.3" y1="474" x2="641.3" y2="500" stroke="#151515" stroke-width="2.1" />
<line x1="646.7" y1="481.3" x2="669.3" y2="494.7" stroke="#151515" stroke-width="1.4" />
<polyline points="643,503 643,523" fill="none" stroke="#333" stroke-width="1.5" stroke-linejoin="round" stroke-dasharray="30 5 1.5 5" stroke-dashoffset="0"/>
<ellipse cx="642.7" cy="536" rx="8" ry="5" fill="#fff" stroke="#151515" stroke-width="1.8" />
<ellipse cx="642.7" cy="535.5" rx="3.3" ry="2" fill="#fff" stroke="#151515" stroke-width="1.3" />
<line x1="650" y1="540.7" x2="677.3" y2="556.7" stroke="#151515" stroke-width="1.4" />
<line x1="642.7" y1="542" x2="642.7" y2="563" stroke="#151515" stroke-width="1.4" />
<ellipse cx="643.3" cy="574" rx="4" ry="2.6" fill="#111" stroke="#151515" stroke-width="2.1" />
<ellipse cx="643.3" cy="578.3" rx="4" ry="2.6" fill="#111" stroke="#151515" stroke-width="2.1" />
<ellipse cx="643.3" cy="582.6" rx="4" ry="2.6" fill="#111" stroke="#151515" stroke-width="2.1" />
<ellipse cx="643.3" cy="586.9" rx="4" ry="2.6" fill="#111" stroke="#151515" stroke-width="2.1" />
<line x1="647.3" y1="585.3" x2="685.3" y2="607.3" stroke="#151515" stroke-width="1.4" />
<line x1="642.7" y1="590" x2="642.7" y2="605" stroke="#151515" stroke-width="1.4" />
<ellipse cx="642.7" cy="614" rx="8" ry="5" fill="#fff" stroke="#151515" stroke-width="1.8" />
<ellipse cx="642.7" cy="613.5" rx="3.3" ry="2" fill="#fff" stroke="#151515" stroke-width="1.3" />
<line x1="642.8" y1="619" x2="642.8" y2="646.5" stroke="#151515" stroke-width="1.4" />
<polygon points="623.9,653.5 626.5,653.5 637.7,660.9 637.7,665.2 619.6,674.8 623.9,671.6" fill="#fff" stroke="#151515" stroke-width="1.4" stroke-linejoin="round" />
<ellipse cx="635" cy="664.1" rx="1.3" ry="1.7" fill="#fff" stroke="#151515" stroke-width="1.3" />
<polygon points="583.9,651.3 619.6,672.1 619.6,676.9 582.8,655.6" fill="#fff" stroke="#151515" stroke-width="1.3" stroke-linejoin="round" />
<line x1="582.8" y1="653.5" x2="619" y2="674.5" stroke="#555" stroke-width="0.9" />
<polygon points="583.9,651.3 600.4,642.3 624.9,637.5 629.2,636.9 631.3,638.5 642,647.1 623.9,653.5 623.9,660 619.6,672.1" fill="#fff" stroke="#151515" stroke-width="1.6" stroke-linejoin="round" />
<polyline points="586,650 600.4,642.3" fill="none" stroke="#151515" stroke-width="2.8" stroke-linejoin="round" />
<line x1="588" y1="649" x2="590" y2="651" stroke="#151515" stroke-width="0.9" />
<line x1="591" y1="647.4" x2="593" y2="649.4" stroke="#151515" stroke-width="0.9" />
<line x1="594" y1="645.8" x2="596" y2="647.8" stroke="#151515" stroke-width="0.9" />
<line x1="597" y1="644.2" x2="599" y2="646.2" stroke="#151515" stroke-width="0.9" />
<line x1="600" y1="642.6" x2="602" y2="644.6" stroke="#151515" stroke-width="0.9" />
<line x1="603" y1="641" x2="605" y2="643" stroke="#151515" stroke-width="0.9" />
<line x1="597.2" y1="651.3" x2="622.8" y2="664.1" stroke="#151515" stroke-width="1.1" />
<line x1="625" y1="641.7" x2="639.9" y2="651.3" stroke="#151515" stroke-width="1.1" />
<path d="M639.9,649.7 L639.9,660.9 A5.3,3.2 0 0 0 650.5,660.9 L650.5,649.7" fill="#fff" stroke="#151515" stroke-width="1.5" stroke-linejoin="round" />
<ellipse cx="645.2" cy="649.7" rx="5.3" ry="3.2" fill="#777" stroke="#151515" stroke-width="1.7" />
<ellipse cx="645.2" cy="649.5" rx="2.2" ry="1.3" fill="#333" stroke="#151515" stroke-width="1.1" />
<line x1="648.4" y1="661.6" x2="670.8" y2="674.4" stroke="#151515" stroke-width="1.4" />
<polyline points="598.6,665 598.6,721" fill="none" stroke="#333" stroke-width="1.5" stroke-linejoin="round" stroke-dasharray="30 5 1.5 5" stroke-dashoffset="7"/>
<polyline points="618.7,676.5 618.7,730" fill="none" stroke="#333" stroke-width="1.5" stroke-linejoin="round" stroke-dasharray="30 5 1.5 5" stroke-dashoffset="7.5"/>
<line x1="598.8" y1="738" x2="598.8" y2="762" stroke="#151515" stroke-width="1.4" />
<line x1="618.8" y1="749" x2="618.8" y2="773" stroke="#151515" stroke-width="1.4" />
<line x1="618.8" y1="778" x2="618.8" y2="812" stroke="#151515" stroke-width="1.4" />
<path d="M595.7,759.6 L649,786.3 L654.3,791.6 L641.5,799.6 L639.4,799 L590.9,769.7 Q588.5,763 595.7,759.6 Z" fill="#fff" stroke="#151515" stroke-width="1.6" stroke-linejoin="round" />
<polyline points="591.5,767.5 636.7,792.7 641.5,799.6" fill="none" stroke="#151515" stroke-width="1.3" stroke-linejoin="round" />
<line x1="636.7" y1="792.7" x2="649" y2="786.3" stroke="#151515" stroke-width="1.3" />
<line x1="643.1" y1="788.4" x2="647.9" y2="795.9" stroke="#151515" stroke-width="1.5" />
<line x1="639.5" y1="796.5" x2="652" y2="789.5" stroke="#151515" stroke-width="1" />
<ellipse cx="598.9" cy="763.9" rx="3.2" ry="2" fill="#fff" stroke="#151515" stroke-width="1.4" />
<ellipse cx="619.1" cy="775.6" rx="3.2" ry="2" fill="#fff" stroke="#151515" stroke-width="1.4" />
<line x1="649" y1="797.5" x2="665" y2="806.5" stroke="#151515" stroke-width="1.5" />
<ellipse cx="589.3" cy="819.7" rx="5.9" ry="3.9" fill="#151515" stroke="#151515" stroke-width="1.4" />
<ellipse cx="619.1" cy="820.1" rx="6" ry="4" fill="#151515" stroke="#151515" stroke-width="1.4" />
<line x1="586.3" y1="819.5" x2="587.8" y2="820.5" stroke="#bbb" stroke-width="0.8" />
<line x1="590.3" y1="819" x2="591.8" y2="820" stroke="#bbb" stroke-width="0.8" />
<line x1="616.1" y1="819.5" x2="617.6" y2="820.5" stroke="#bbb" stroke-width="0.8" />
<line x1="620.1" y1="819" x2="621.6" y2="820" stroke="#bbb" stroke-width="0.8" />
<line x1="584.3" y1="824" x2="561.9" y2="836.1" stroke="#151515" stroke-width="1.5" />
<line x1="622.5" y1="824" x2="645.9" y2="837.1" stroke="#151515" stroke-width="1.5" />
<text x="547.5" y="845.5" font-family="Liberation Sans" font-weight="bold" font-size="21" text-anchor="middle" fill="#111">16</text>
<text x="664" y="845" font-family="Liberation Sans" font-weight="bold" font-size="21" text-anchor="middle" fill="#111">16</text>
<line x1="618.7" y1="824.7" x2="618.7" y2="846.2" stroke="#151515" stroke-width="1.4" />
<path d="M616.4,863.5 A6.7,3.4 0 1 0 621.4,863.5" fill="#fff" stroke="#151515" stroke-width="1.8" stroke-linejoin="round" />
<polygon points="616.2,847.5 621.6,847.5 621.6,864 616.2,864" fill="#222" stroke="#151515" stroke-width="1.4" stroke-linejoin="round" />
<ellipse cx="618.9" cy="847.5" rx="2.7" ry="1.2" fill="#eee" stroke="#151515" stroke-width="1.1" />
<line x1="617" y1="852" x2="620.5" y2="853.5" stroke="#aaa" stroke-width="0.8" />
<line x1="617" y1="856" x2="620.5" y2="857.5" stroke="#aaa" stroke-width="0.8" />
<line x1="617" y1="860" x2="620.5" y2="861.5" stroke="#aaa" stroke-width="0.8" />
<line x1="624.4" y1="867.9" x2="640.3" y2="877.2" stroke="#151515" stroke-width="1.5" />
<rect x="0" y="890.5" width="35" height="2" fill="#ededed"/>
<rect x="198" y="890.5" width="92" height="2" fill="#ededed"/>
<rect x="450" y="890.5" width="74" height="2" fill="#ededed"/>
<rect x="572" y="890.5" width="63" height="2" fill="#ededed"/>
</svg></body></html>
